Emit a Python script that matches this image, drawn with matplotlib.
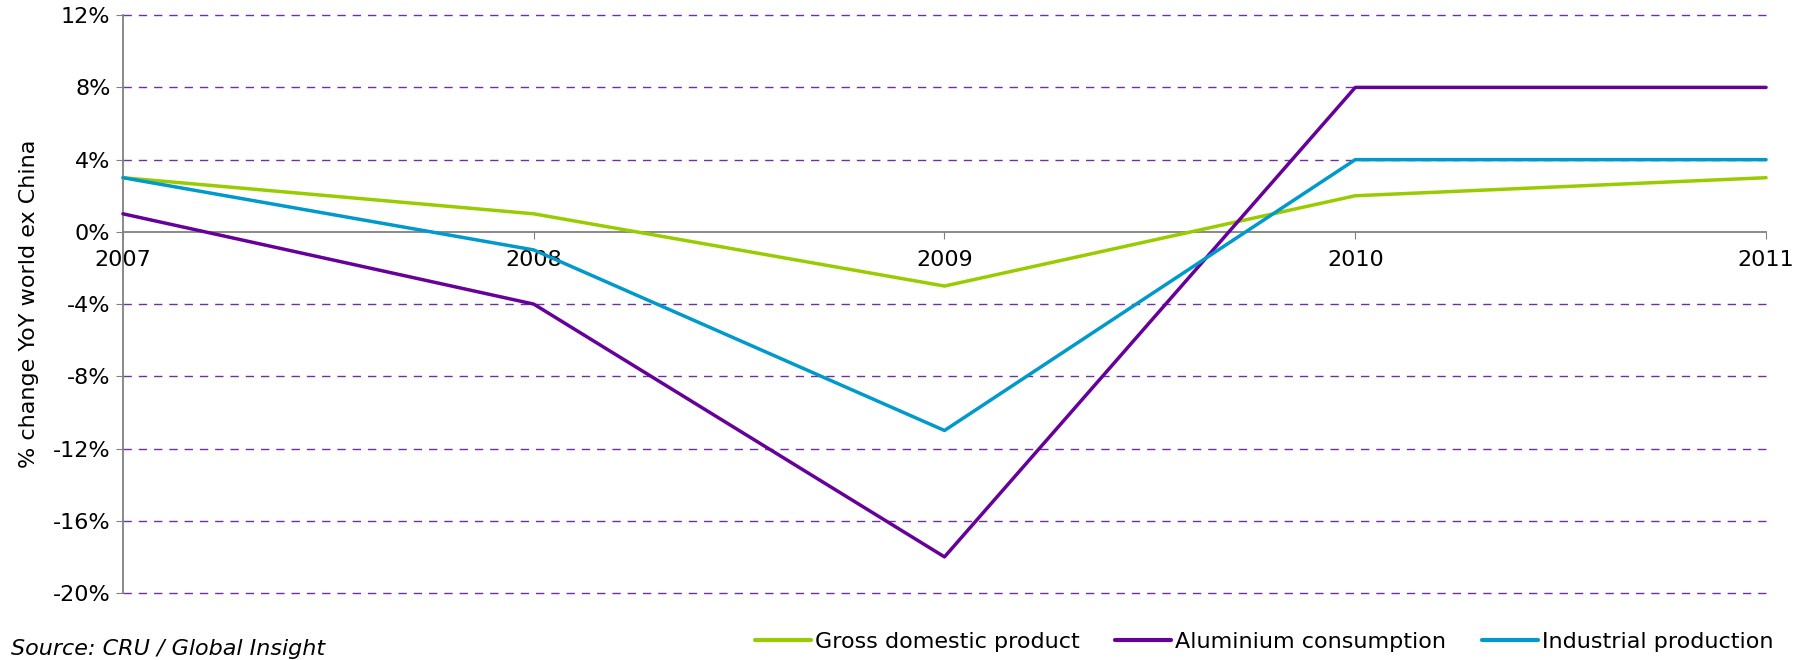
import numpy as np
import matplotlib.pyplot as plt

# yearly % change, world ex China
years = [2007, 2008, 2009, 2010, 2011]
gdp = [3, 1, -3, 2, 3]
aluminium = [1, -4, -18, 8, 8]
industrial = [3, -1, -11, 4, 4]

series_names = ["Gross domestic product", "Aluminium consumption", "Industrial production"]
series_colors = ["#99CC00", "#660099", "#0099CC"]

yticks = [12, 8, 4, 0, -4, -8, -12, -16, -20]

plt.rcParams['font.family'] = ['DejaVu Sans']

fig = plt.figure(figsize=(18.08, 6.6), dpi=100)
ax = fig.add_axes([0.068, 0.1015, 0.9088, 0.8755])

for vals, name, col in zip([gdp, aluminium, industrial], series_names, series_colors):
    ax.plot(years, vals, color=col, lw=2.5, label=name, solid_capstyle='round',
            zorder=3, clip_on=False)

ax.set_xlim(2007, 2011)
ax.set_ylim(-20, 12)
ax.set_yticks(yticks)
ax.set_yticklabels([f"{v}%" for v in yticks])
ax.set_xticks(years)
ax.set_xticklabels([str(y) for y in years])

# dashed gridlines, skip the zero line (the x axis sits there)
for v in yticks:
    if v != 0:
        ax.axhline(v, color="#7030A0", lw=1.0, ls=(0, (6, 5)), zorder=1, clip_on=False)

for s in ['top', 'right']:
    ax.spines[s].set_visible(False)
ax.spines['bottom'].set_position(('data', 0))
ax.spines['bottom'].set_color("#808080")
ax.spines['left'].set_color("#808080")
ax.spines['bottom'].set_linewidth(1.3)
ax.spines['left'].set_linewidth(1.3)

ax.tick_params(axis='y', direction='out', length=5, color="#808080", labelsize=16, pad=4)
ax.tick_params(axis='x', direction='out', length=5, color="#808080", labelsize=16, pad=8)

ax.set_ylabel("% change YoY world ex China", fontsize=16, labelpad=10)

fig.text(0.006, 0.016, "Source: CRU / Global Insight", fontsize=16, style='italic',
         ha='left', va='center')

leg = fig.legend(loc='lower right', bbox_to_anchor=(0.992, -0.018), ncol=3, frameon=False,
                 fontsize=16, handlelength=2.5, handletextpad=0.2, columnspacing=1.6)
for h in leg.get_lines():
    h.set_linewidth(3)

fig.savefig("out.png", dpi=100)
